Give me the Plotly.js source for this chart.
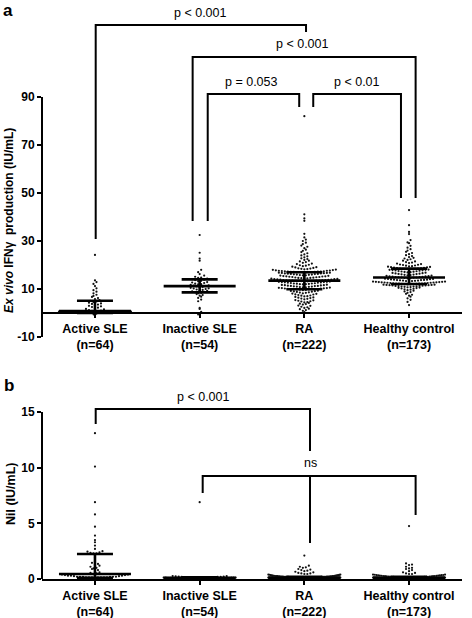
<!DOCTYPE html>
<html><head><meta charset="utf-8">
<script src="https://cdn.plot.ly/plotly-3.0.1.min.js"></script>
<style>html,body{margin:0;padding:0;background:#fff}</style>
</head><body><div id="chart" style="width:472px;height:618px"></div>
<script>
// ---------------- DATA ----------------
const categories = ['Active SLE', 'Inactive SLE', 'RA', 'Healthy control'];
const groupN = [64, 54, 222, 173];

// Panel a: Ex vivo IFN-gamma production (IU/mL)
const ifnActiveSLE = [24.2, 13.6, 12.9, 12.1, 11.2, 10.3, 9.5, 8.9, 8.2, 7.6, 7.1, 6.7, 6.2, 5.8, 5.4, 5.1,
  4.8, 4.6, 4.3, 4.0, 3.8, 3.5, 3.3, 3.0, 2.8, 2.5, 2.2, 2.0, 1.7, 1.5, 1.2, 1.0,
  0.9, 0.8, 0.7, 0.6, 0.6, 0.5, 0.5, 0.5, 0.5, 0.5, 0.5, 0.5, 0.4, 0.4, 0.4, 0.4,
  0.4, 0.4, 0.4, 0.4, 0.4, 0.3, 0.3, 0.3, 0.3, 0.3, 0.2, 0.1, 0.0, -0.3, -0.6, -1.0];
const ifnInactiveSLE = [32.5, 25.1, 22.7, 21.8, 18.0, 17.0, 16.2, 15.6, 15.1, 14.8, 14.6, 14.3, 14.1,
  13.9, 13.7, 13.4, 13.2, 12.9, 12.7, 12.5, 12.2, 12.0, 11.9, 11.7, 11.5, 11.4, 11.2,
  11.1, 10.9, 10.8, 10.5, 10.3, 10.2, 10.0, 9.8, 9.6, 9.4, 9.2, 9.0, 8.8, 8.6,
  8.4, 8.2, 7.9, 7.5, 7.2, 6.8, 6.3, 5.6, 4.9, 2.1, 1.7, 0.5, -0.6];
const ifnRA = [0.4, 0.9, 1.2, 1.6, 1.8, 2.1, 2.4, 2.6, 3.0, 3.1, 3.5, 3.7, 3.9, 4.2, 4.4, 4.5, 4.8, 4.9,
  5.1, 5.3, 5.4, 5.7, 5.9, 6.0, 6.2, 6.4, 6.5, 6.7, 6.9, 7.0, 7.2, 7.3, 7.5, 7.7, 7.8, 8.0, 8.1, 8.2,
  8.4, 8.5, 8.6, 8.8, 8.9, 9.0, 9.1, 9.2, 9.3, 9.5, 9.6, 9.7, 9.8, 9.8, 9.9, 9.9, 9.9,
  10.0, 10.0, 10.1, 10.2, 10.2, 10.3, 10.4, 10.4, 10.5, 10.6, 10.7, 10.7, 10.8, 10.9, 11.0, 11.0, 11.1, 11.2, 11.3, 11.3,
  11.4, 11.5, 11.6, 11.6, 11.7, 11.8, 11.9, 12.0, 12.0, 12.1, 12.2, 12.3, 12.3, 12.4, 12.5, 12.6, 12.6, 12.7, 12.8, 12.9,
  12.9, 13.0, 13.0, 13.1, 13.2, 13.2, 13.3, 13.3, 13.4, 13.4, 13.4, 13.5, 13.5, 13.5, 13.5,
  13.6, 13.6, 13.7, 13.7, 13.8, 13.9, 13.9, 14.0, 14.1, 14.1, 14.2, 14.3, 14.4, 14.4, 14.5, 14.6, 14.6, 14.7, 14.8, 14.9,
  15.0, 15.0, 15.1, 15.2, 15.3, 15.3, 15.4, 15.5, 15.6, 15.7, 15.7, 15.8, 15.9, 16.0, 16.0, 16.1, 16.2, 16.3, 16.3, 16.4,
  16.5, 16.5, 16.6, 16.7, 16.7, 16.8, 16.8, 16.9, 16.9, 17.0, 17.0, 17.0, 17.0, 17.1, 17.1, 17.1,
  17.2, 17.2, 17.3, 17.4, 17.4, 17.5, 17.6, 17.6, 17.7, 17.8, 17.9, 18.0, 18.1, 18.2, 18.3, 18.4, 18.5, 18.6, 18.8, 19.0,
  19.1, 19.3, 19.5, 19.7, 19.9, 20.1, 20.4, 20.6, 20.9, 21.2, 21.5, 21.8, 22.1, 22.5, 22.8, 23.2, 23.6, 24.0, 24.4, 24.9,
  25.4, 25.9, 26.4, 27.0, 27.6, 28.1, 28.7, 29.3, 30.0, 30.6, 31.5, 33.0, 38.4, 39.4, 41.1, 82.0];
const ifnHealthy = [3.3, 4.6, 5.5, 6.1, 6.8, 7.2, 7.6, 8.0, 8.4, 8.7, 9.0, 9.3, 9.5, 9.7, 9.9, 10.1, 10.2, 10.4, 10.5, 10.6,
  10.7, 10.8, 10.9, 11.0, 11.0, 11.1, 11.2, 11.3, 11.3, 11.4, 11.5, 11.5, 11.6, 11.6, 11.7, 11.7, 11.8, 11.8, 11.9, 11.9,
  12.0, 12.0, 12.1,
  12.1, 12.2, 12.2, 12.3, 12.3, 12.4, 12.4, 12.5, 12.5, 12.6, 12.6, 12.7, 12.7, 12.8, 12.8, 12.9, 12.9, 13.0, 13.0, 13.1,
  13.1, 13.2, 13.3, 13.3, 13.4, 13.5, 13.5, 13.6, 13.7, 13.7, 13.8, 13.9, 13.9, 14.0, 14.1, 14.2, 14.2, 14.3, 14.4, 14.5,
  14.6, 14.7, 14.8, 14.8,
  14.9, 15.0, 15.0, 15.1, 15.2, 15.3, 15.3, 15.4, 15.5, 15.6, 15.7, 15.8, 15.9, 16.0, 16.1, 16.2, 16.3, 16.4, 16.5, 16.6,
  16.7, 16.8, 16.9, 17.0, 17.1, 17.2, 17.3, 17.4, 17.5, 17.6, 17.7, 17.8, 17.9, 18.0, 18.0, 18.1, 18.2, 18.3, 18.3, 18.4,
  18.4, 18.5, 18.5,
  18.6, 18.7, 18.8, 18.9, 19.0, 19.1, 19.2, 19.3, 19.4, 19.5, 19.7, 19.8, 20.0, 20.1, 20.2, 20.4, 20.6, 20.8, 21.0, 21.2,
  21.5, 21.8, 22.1, 22.4, 22.7, 23.0, 23.3, 23.7, 24.1, 24.5, 25.0, 25.5, 26.0, 26.6, 27.2, 28.0, 29.1, 29.4, 30.4, 32.9,
  33.8, 36.6, 42.9];
const ifnMedian = [0.8, 11.2, 13.5, 14.8];
const ifnQ1 = [0.0, 8.6, 9.9, 12.1];
const ifnQ3 = [5.1, 14.0, 17.0, 18.5];
const ifnTicks = [-10, 10, 30, 50, 70, 90];
const ifnTickText = ['-10', '10', '30', '50', '70', '90'];

// Panel b: Nil (IU/mL)
const nilActiveSLE = [13.1, 10.1, 6.9, 5.8, 4.7, 3.9, 3.5, 3.3, 3.0, 2.7, 2.5, 2.45, 2.4, 2.35, 2.3, 2.3,
  2.1, 1.9, 1.6, 1.45, 1.35, 1.3, 1.2, 1.1, 1.0, 0.95, 0.9, 0.8, 0.7, 0.6, 0.55, 0.5,
  0.45, 0.4, 0.4, 0.35, 0.35, 0.3, 0.3, 0.3, 0.25, 0.25, 0.2, 0.2, 0.2, 0.2, 0.2, 0.2,
  0.15, 0.15, 0.15, 0.15, 0.15, 0.15, 0.15, 0.15, 0.1, 0.1, 0.1, 0.1, 0.1, 0.1, 0.1, 0.1];
const nilInactiveSLE = [6.9, 0.27, 0.25, 0.24, 0.22, 0.21, 0.2, 0.19, 0.19, 0.18,
  0.17, 0.17, 0.16, 0.16, 0.15, 0.15, 0.15, 0.14, 0.14, 0.14,
  0.13, 0.13, 0.12, 0.12, 0.12, 0.11, 0.11, 0.11, 0.1, 0.1,
  0.1, 0.09, 0.09, 0.09, 0.08, 0.08, 0.08, 0.07, 0.07, 0.07,
  0.06, 0.06, 0.06, 0.05, 0.05, 0.05, 0.04, 0.04, 0.03, 0.03,
  0.02, 0.02, 0.01, 0.01];
const nilRA = [2.1, 1.2, 1.1, 1.05, 1.0, 0.9, 0.85, 0.8, 0.75, 0.7,
  0.65, 0.6, 0.55, 0.5, 0.5, 0.45, 0.45, 0.4, 0.4, 0.38,
  0.37, 0.35, 0.34, 0.33, 0.32, 0.3, 0.3, 0.29, 0.28, 0.27,
  0.27, 0.26, 0.25, 0.25, 0.24, 0.24, 0.23, 0.23, 0.22, 0.22,
  0.21, 0.21, 0.21, 0.21, 0.2, 0.2, 0.2, 0.2, 0.2, 0.2, 0.19, 0.19, 0.19, 0.19,
  0.18, 0.18, 0.18, 0.18, 0.18, 0.17, 0.17, 0.17, 0.17, 0.17,
  0.16, 0.16, 0.16, 0.16, 0.16, 0.16, 0.15, 0.15, 0.15, 0.15, 0.15, 0.15,
  0.14, 0.14, 0.14, 0.14, 0.14, 0.14,
  0.13, 0.13, 0.13, 0.13, 0.13, 0.13, 0.13, 0.13, 0.13, 0.13,
  0.12, 0.12, 0.12, 0.12, 0.12, 0.12, 0.12, 0.12, 0.12, 0.12,
  0.11, 0.11, 0.11, 0.11, 0.11, 0.11, 0.11, 0.11, 0.11, 0.11, 0.11, 0.11,
  0.1, 0.1, 0.1, 0.1, 0.1, 0.1, 0.1, 0.1, 0.1, 0.1, 0.1, 0.1, 0.1, 0.1,
  0.09, 0.09, 0.09, 0.09, 0.09, 0.09, 0.09, 0.09, 0.09, 0.09, 0.09, 0.09,
  0.08, 0.08, 0.08, 0.08, 0.08, 0.08, 0.08, 0.08, 0.08, 0.08, 0.08, 0.08,
  0.07, 0.07, 0.07, 0.07, 0.07, 0.07, 0.07, 0.07, 0.07, 0.07, 0.07, 0.07,
  0.06, 0.06, 0.06, 0.06, 0.06, 0.06, 0.06, 0.06, 0.06, 0.06, 0.06, 0.06,
  0.05, 0.05, 0.05, 0.05, 0.05, 0.05, 0.05, 0.05, 0.05, 0.05, 0.05, 0.05,
  0.04, 0.04, 0.04, 0.04, 0.04, 0.04, 0.04, 0.04, 0.04, 0.04,
  0.03, 0.03, 0.03, 0.03, 0.03, 0.03, 0.03, 0.03,
  0.02, 0.02, 0.02, 0.02, 0.02, 0.02, 0.02, 0.02,
  0.01, 0.01, 0.01, 0.01, 0.01, 0.01, 0.0, 0.0];
const nilHealthy = [4.75, 1.4, 1.3, 1.25, 1.1, 1.0, 0.95, 0.9, 0.8, 0.7,
  0.6, 0.55, 0.5, 0.45, 0.45, 0.4, 0.4, 0.38, 0.36, 0.35,
  0.34, 0.33, 0.32, 0.3, 0.3, 0.29, 0.28, 0.27, 0.26, 0.25,
  0.25, 0.24, 0.23, 0.22, 0.22, 0.21, 0.2, 0.2, 0.2, 0.19,
  0.19, 0.18, 0.18, 0.18, 0.17, 0.17, 0.17, 0.16, 0.16, 0.16,
  0.15, 0.15, 0.15, 0.15, 0.14, 0.14, 0.14, 0.14,
  0.13, 0.13, 0.13, 0.13, 0.13, 0.13, 0.13, 0.13, 0.13,
  0.12, 0.12, 0.12, 0.12, 0.12, 0.12, 0.12, 0.12, 0.12,
  0.11, 0.11, 0.11, 0.11, 0.11, 0.11, 0.11, 0.11, 0.11, 0.11,
  0.1, 0.1, 0.1, 0.1, 0.1, 0.1, 0.1, 0.1, 0.1, 0.1, 0.1, 0.1,
  0.09, 0.09, 0.09, 0.09, 0.09, 0.09, 0.09, 0.09, 0.09, 0.09,
  0.08, 0.08, 0.08, 0.08, 0.08, 0.08, 0.08, 0.08, 0.08, 0.08,
  0.07, 0.07, 0.07, 0.07, 0.07, 0.07, 0.07, 0.07, 0.07, 0.07,
  0.06, 0.06, 0.06, 0.06, 0.06, 0.06, 0.06, 0.06, 0.06, 0.06,
  0.05, 0.05, 0.05, 0.05, 0.05, 0.05, 0.05, 0.05, 0.05, 0.05,
  0.04, 0.04, 0.04, 0.04, 0.04, 0.04, 0.04, 0.04,
  0.03, 0.03, 0.03, 0.03, 0.03, 0.03, 0.03,
  0.02, 0.02, 0.02, 0.02, 0.02, 0.01, 0.01, 0.01, 0.0, 0.0];
const nilMedian = [0.45, 0.1, 0.1, 0.1];
const nilQ1 = [0.1, 0.05, 0.05, 0.05];
const nilQ3 = [2.25, 0.15, 0.2, 0.2];
const nilTicks = [0, 5, 10, 15];

const ifnPLabels = ['p < 0.001', 'p < 0.001', 'p = 0.053', 'p < 0.01'];
const nilPLabels = ['p < 0.001', 'ns'];

// ---------------- LAYOUT GEOMETRY ----------------
const W = 472, H = 618, ML = 42, MR = 10;
const xRange = [-0.506, 3.506];
const pxX = (W - ML - MR) / (xRange[1] - xRange[0]);
const aPxPerUnit = 2.4, aBotPx = 337, aZeroPx = 313;
const aRange = [-10, -10 + aBotPx / aPxPerUnit];
const aDomain = [1 - aBotPx / H, 1];
const bPxPerUnit = 11.133, bTopPx = 380, bBotPx = 579;
const bRange = [0, (bBotPx - bTopPx) / bPxPerUnit];
const bDomain = [1 - bBotPx / H, 1 - bTopPx / H];
const FONT = 'Liberation Sans, Arial, sans-serif';

function swarm(vals, ci, pxY) {
  const rowPx = 3, gap = 3, maxW = 72;
  const rows = new Map();
  [...vals].sort((a, b) => a - b).forEach(v => {
    const k = Math.round(v * pxY / rowPx);
    if (!rows.has(k)) rows.set(k, []);
    rows.get(k).push(v);
  });
  const x = [], y = [];
  rows.forEach(arr => {
    const n = arr.length;
    const g = n > 1 ? Math.min(gap, maxW / (n - 1)) : 0;
    arr.forEach((v, i) => {
      const slot = i === 0 ? 0 : (i % 2 === 1 ? (i + 1) / 2 : -(i / 2));
      const off = slot - (n % 2 === 0 ? 0.5 : 0);
      x.push(ci + off * g / pxX);
      y.push(v);
    });
  });
  return {x, y};
}

function summary(med, q1, q3, xa, ya) {
  const mh = 36 / pxX, qh = 18 / pxX;
  const x = [], y = [];
  med.forEach((m, i) => {
    x.push(i - mh, i + mh, null, i - qh, i + qh, null, i - qh, i + qh, null, i, i, null);
    y.push(m, m, null, q1[i], q1[i], null, q3[i], q3[i], null, q1[i], q3[i], null);
  });
  return {type: 'scatter', mode: 'lines', x, y, xaxis: xa, yaxis: ya,
    line: {color: '#000', width: 2.6}, hoverinfo: 'skip', showlegend: false, cliponaxis: false};
}

function bracket(pts, xa, ya) {
  return {type: 'scatter', mode: 'lines', x: pts.map(p => p[0]), y: pts.map(p => p[1]),
    xaxis: xa, yaxis: ya, line: {color: '#000', width: 2}, hoverinfo: 'skip',
    showlegend: false, cliponaxis: false};
}

const traces = [];
const ifnGroups = [ifnActiveSLE, ifnInactiveSLE, ifnRA, ifnHealthy];
const nilGroups = [nilActiveSLE, nilInactiveSLE, nilRA, nilHealthy];
const dotStyle = {color: '#111', size: 2.2};
ifnGroups.forEach((g, i) => {
  const s = swarm(g, i, aPxPerUnit);
  traces.push({type: 'scatter', mode: 'markers', x: s.x, y: s.y, xaxis: 'x', yaxis: 'y',
    marker: dotStyle, hoverinfo: 'skip', showlegend: false, cliponaxis: false});
});
nilGroups.forEach((g, i) => {
  const s = swarm(g, i, bPxPerUnit);
  traces.push({type: 'scatter', mode: 'markers', x: s.x, y: s.y, xaxis: 'x2', yaxis: 'y2',
    marker: dotStyle, hoverinfo: 'skip', showlegend: false, cliponaxis: false});
});
traces.push(summary(ifnMedian, ifnQ1, ifnQ3, 'x', 'y'));
traces.push(summary(nilMedian, nilQ1, nilQ3, 'x2', 'y2'));

// brackets panel a
traces.push(bracket([[0.007, 30.8], [0.007, 120.0], [2.016, 120.0], [2.016, 117.1]], 'x', 'y'));
traces.push(bracket([[0.933, 38.3], [0.933, 106.7], [3.063, 106.7], [3.063, 47.9]], 'x', 'y'));
traces.push(bracket([[1.077, 38.3], [1.077, 91.25], [1.951, 91.25], [1.951, 85.8]], 'x', 'y'));
traces.push(bracket([[2.085, 85.8], [2.085, 91.25], [2.923, 91.25], [2.923, 47.9]], 'x', 'y'));
// brackets panel b
traces.push(bracket([[0.007, 13.92], [0.007, 15.27], [2.054, 15.27], [2.054, 11.5]], 'x2', 'y2'));
traces.push(bracket([[1.029, 7.72], [1.029, 9.25], [3.063, 9.25], [3.063, 5.75]], 'x2', 'y2'));
traces.push(bracket([[2.054, 9.25], [2.054, 3.23]], 'x2', 'y2'));

const tickText = categories.map((c, i) => c + '<br>(n=' + groupN[i] + ')');
const axFont = {family: FONT, size: 12.5, color: '#000', weight: 'bold'};

const pText = (t, x, y, xa, ya) => ({text: t, x, y, xref: xa, yref: ya, showarrow: false,
  xanchor: 'center', yanchor: 'middle', font: {family: FONT, size: 12.5, color: '#000'}});

const layout = {
  width: W, height: H, margin: {l: ML, r: MR, t: 0, b: 0},
  paper_bgcolor: '#fff', plot_bgcolor: 'rgba(0,0,0,0)', showlegend: false, hovermode: false,
  xaxis: {range: xRange, domain: [0, 1], anchor: 'free', position: 1 - aZeroPx / H,
    showline: true, linecolor: '#000', linewidth: 2, ticks: 'outside', ticklen: 4, tickwidth: 2,
    tickcolor: '#000', tickvals: [0, 1, 2, 3], ticktext: tickText, tickfont: axFont,
    showgrid: false, zeroline: false},
  yaxis: {range: aRange, domain: aDomain, anchor: 'x', showline: false, ticks: 'outside',
    ticklen: 4, tickwidth: 2, tickcolor: '#000', tickvals: ifnTicks, ticktext: ifnTickText,
    tickfont: {family: FONT, size: 12, color: '#000', weight: 'bold'}, showgrid: false, zeroline: false},
  xaxis2: {range: xRange, domain: [0, 1], anchor: 'y2', showline: true, linecolor: '#000',
    linewidth: 2, ticks: 'outside', ticklen: 4, tickwidth: 2, tickcolor: '#000',
    tickvals: [0, 1, 2, 3], ticktext: tickText, tickfont: axFont, showgrid: false, zeroline: false},
  yaxis2: {range: bRange, domain: bDomain, anchor: 'x2', showline: false, ticks: 'outside',
    ticklen: 4, tickwidth: 2, tickcolor: '#000', tickvals: nilTicks,
    tickfont: {family: FONT, size: 12, color: '#000', weight: 'bold'}, showgrid: false, zeroline: false},
  shapes: [
    {type: 'line', xref: 'x domain', yref: 'y', x0: 0, x1: 0, y0: ifnTicks[0], y1: ifnTicks[ifnTicks.length - 1],
      line: {color: '#000', width: 2}},
    {type: 'line', xref: 'x2 domain', yref: 'y2', x0: 0, x1: 0, y0: nilTicks[0], y1: nilTicks[nilTicks.length - 1],
      line: {color: '#000', width: 2}}
  ],
  annotations: [
    pText(ifnPLabels[0], 1.008, 125.0, 'x', 'y'),
    pText(ifnPLabels[1], 1.987, 112.1, 'x', 'y'),
    pText(ifnPLabels[2], 1.495, 96.25, 'x', 'y'),
    pText(ifnPLabels[3], 2.503, 96.25, 'x', 'y'),
    pText(nilPLabels[0], 1.032, 16.35, 'x2', 'y2'),
    pText(nilPLabels[1], 2.054, 10.42, 'x2', 'y2'),
    {text: '<i>Ex vivo</i> IFNγ  production (IU/mL)', textangle: -90, xref: 'paper', yref: 'paper',
      x: (9 - ML) / (W - ML - MR), y: 1 - 221 / H, showarrow: false, xanchor: 'center', yanchor: 'middle',
      font: {family: FONT, size: 12, color: '#000', weight: 'bold'}},
    {text: 'Nil (IU/mL)', textangle: -90, xref: 'paper', yref: 'paper',
      x: (11 - ML) / (W - ML - MR), y: 1 - 494 / H, showarrow: false, xanchor: 'center', yanchor: 'middle',
      font: {family: FONT, size: 12.5, color: '#000', weight: 'bold'}},
    {text: 'a', xref: 'paper', yref: 'paper', x: (2 - ML) / (W - ML - MR), y: 1,
      showarrow: false, xanchor: 'left', yanchor: 'top', borderpad: 0,
      font: {family: FONT, size: 17, color: '#000', weight: 'bold'}},
    {text: 'b', xref: 'paper', yref: 'paper', x: (2 - ML) / (W - ML - MR), y: 1 - 385 / H,
      showarrow: false, xanchor: 'left', yanchor: 'middle', font: {family: FONT, size: 17, color: '#000', weight: 'bold'}}
  ]
};

Plotly.newPlot('chart', traces, layout, {staticPlot: true, displayModeBar: false});
</script>
</body></html>
